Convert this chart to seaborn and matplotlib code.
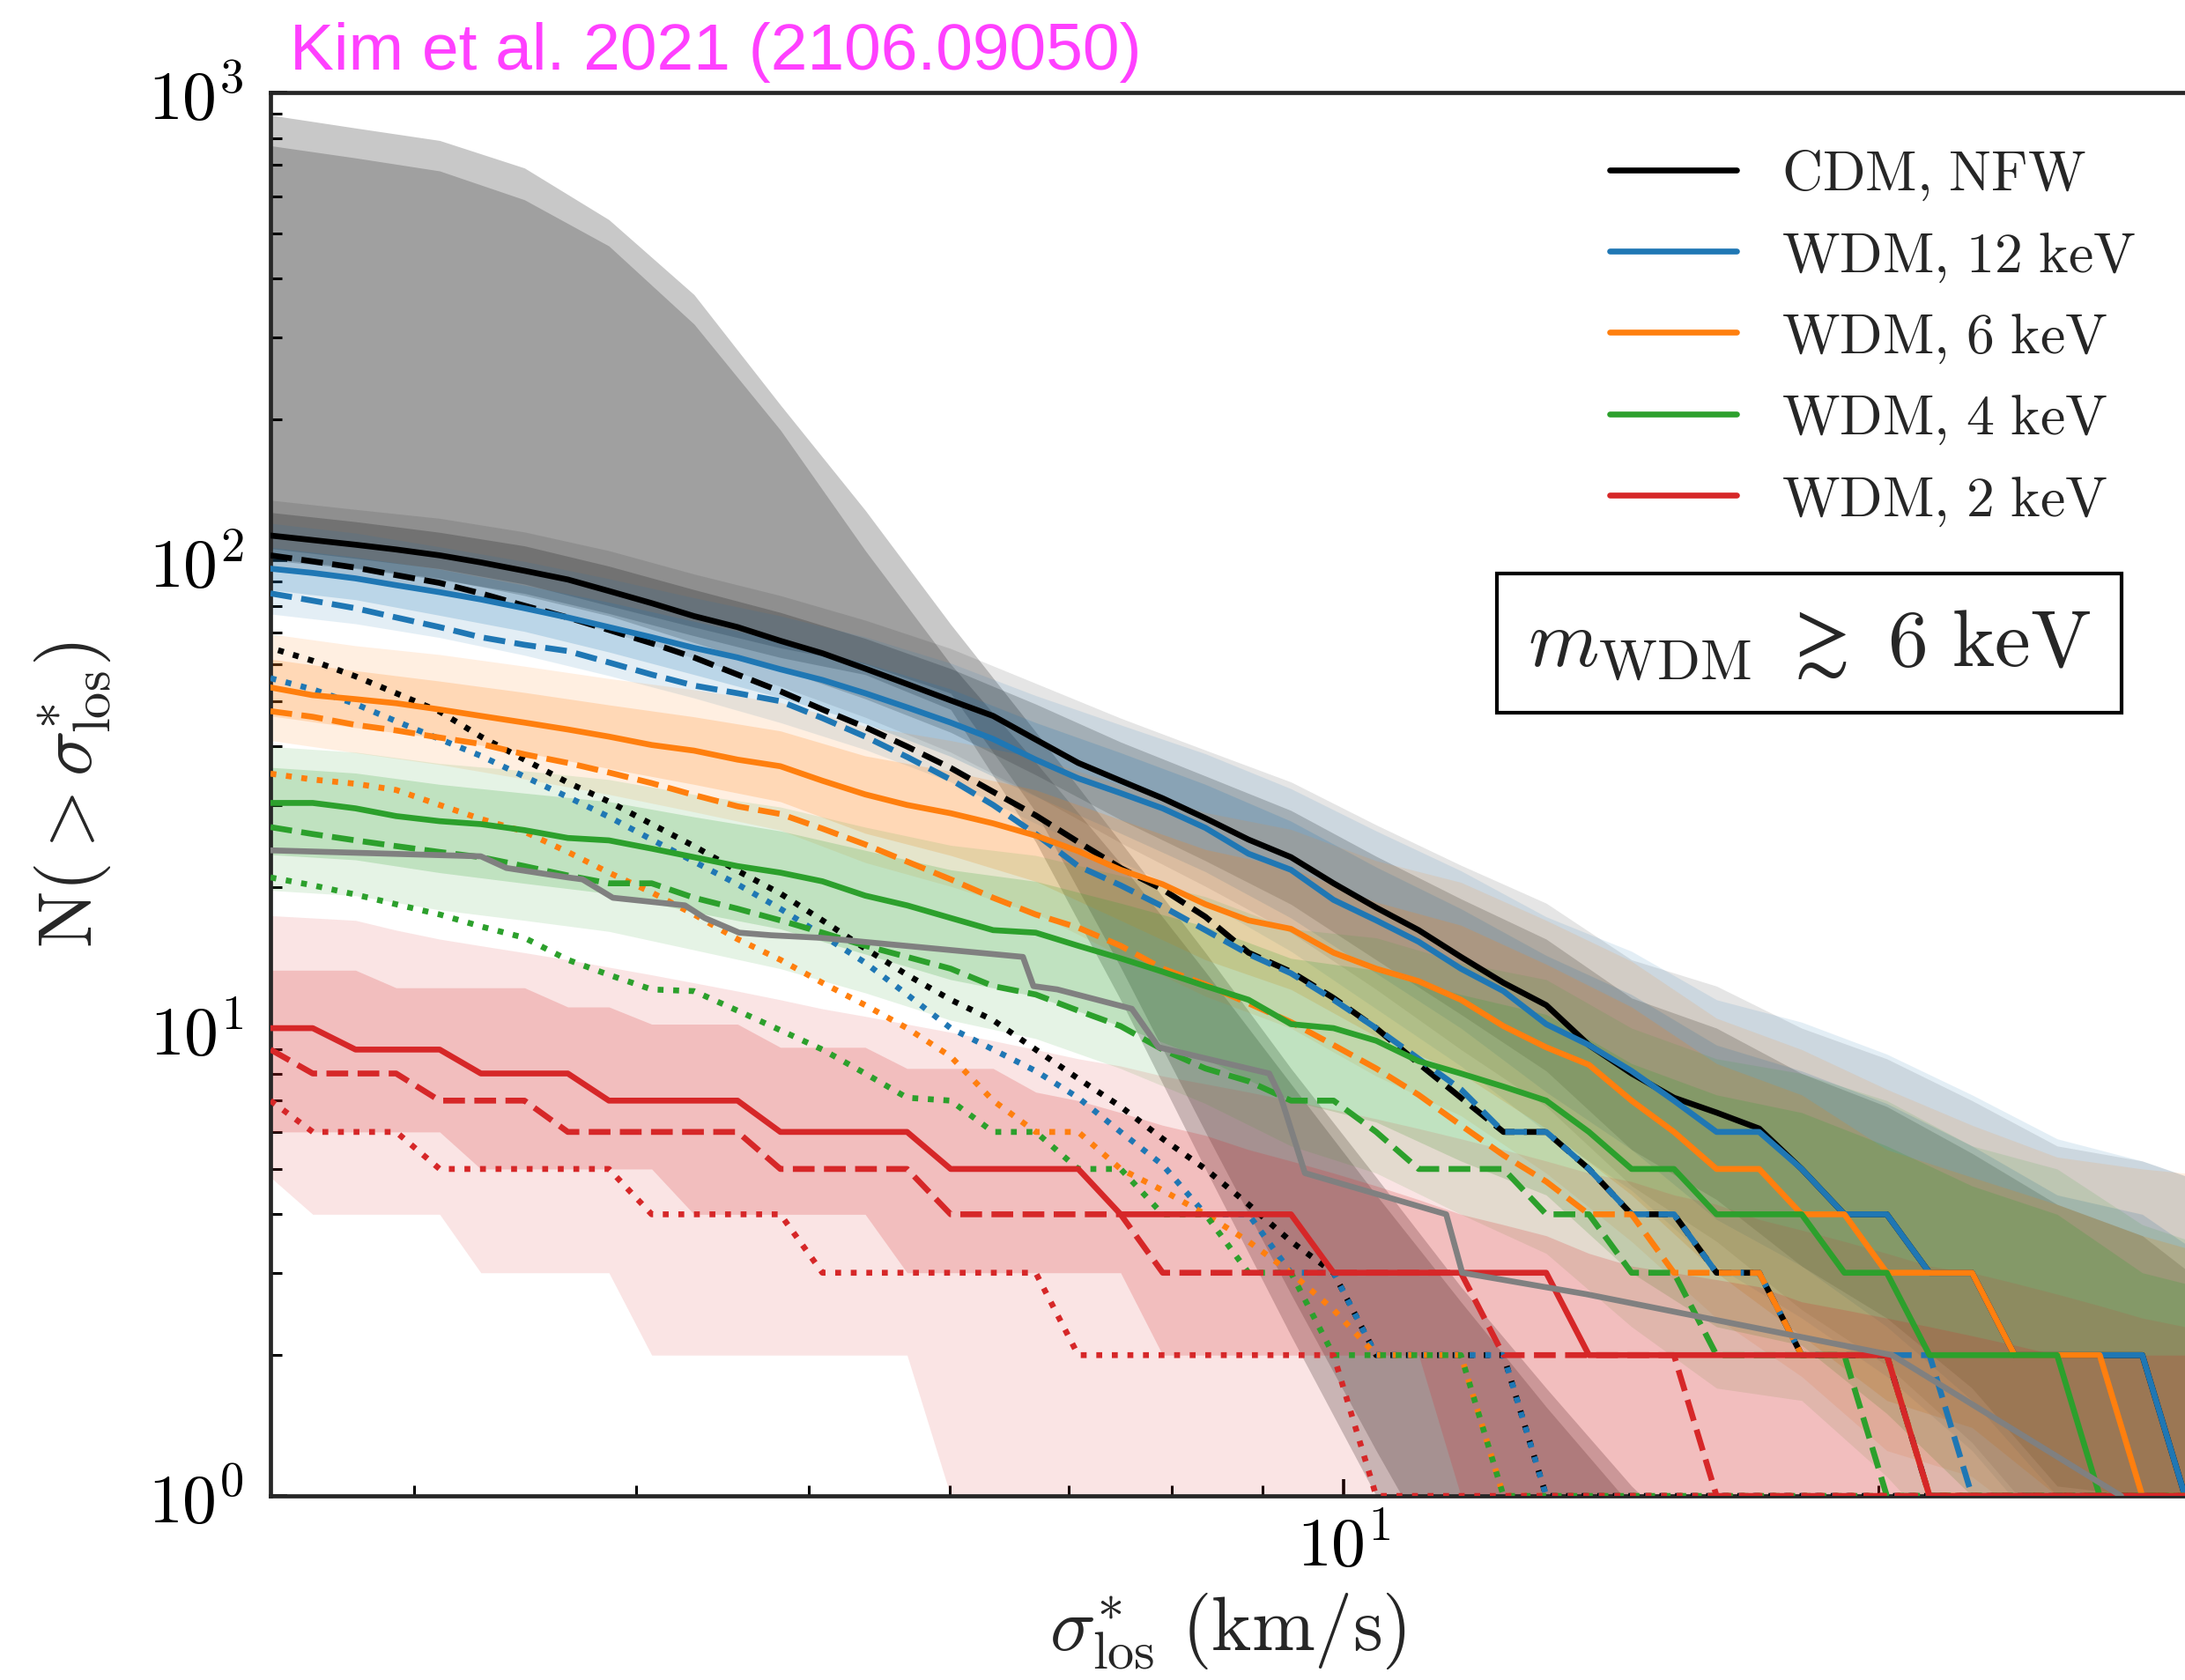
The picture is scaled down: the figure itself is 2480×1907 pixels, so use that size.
import numpy as np
import matplotlib
matplotlib.use("Agg")
import matplotlib.pyplot as plt
import seaborn as sns
from matplotlib.ticker import LogLocator, FuncFormatter, NullFormatter

# ---------------------------------------------------------------------------
# sigma*_los grid (km/s) on which the cumulative counts are sampled
SIGMA = [2.49, 2.63, 2.78, 2.93, 3.10, 3.27, 3.46, 3.66, 3.86, 4.08,
         4.31, 4.56, 4.82, 5.09, 5.38, 5.68, 6.01, 6.35, 6.71, 7.09,
         7.49, 7.91, 8.36, 8.84, 9.34, 9.87, 10.43, 11.02, 11.64, 12.30,
         13.00, 13.74, 14.52, 15.34, 16.21, 17.13, 18.10, 19.13, 20.21, 21.36,
         22.57, 23.85, 25.20, 26.63, 28.14, 29.74, 31.42]
# bands are tabulated on every second grid point
BAND_SIGMA = SIGMA[::2]

# ---- median N(>sigma) curves ------------------------------------------------
CDM_SOLID = [113, 110.5, 108, 105.5, 102.5, 99, 95, 91, 86, 81,
             76, 72, 67.3, 63.3, 58.7, 54.4, 50.2, 46.5, 41.4, 36.9,
             33.8, 31.0, 28.1, 25.3, 23.2, 20.4, 18.1, 16.2, 14.2, 12.5,
             11.2, 9.2, 8.0, 7.1, 6.6, 6.1, 5, 4, 4, 3,
             3, 2, 2, 2, 2, 1, 1]
CDM_DASHED = [102.5, 99.5, 96.5, 93, 89.5, 85, 80, 75.5, 71, 66.5,
              62, 57, 52.5, 48, 44, 40, 36, 32, 28.5, 25,
              22, 19.8, 17.3, 14.5, 13.2, 11.6, 10.0, 8.4, 7.1, 6,
              6, 5, 4, 4, 3, 3, 2, 2, 2, 1,
              1, 1, 1, 1, 1, 1, 1]
CDM_DOTTED = [65, 61, 56.5, 52, 47.5, 42, 37.5, 33.5, 30.5, 27.3,
              24.5, 21.7, 19.4, 17.0, 14.8, 13.0, 11.5, 10.4, 9.0, 7.8,
              6.8, 5.8, 5.0, 4.2, 3.5, 3, 2, 2, 2, 2,
              1, 1, 1, 1, 1, 1, 1, 1, 1, 1,
              1, 1, 1, 1, 1, 1, 1]

W12_SOLID = [96, 94, 91.5, 88.5, 85.5, 82.5, 79, 75.5, 72, 68.5,
             65, 62, 58.5, 55.5, 52, 48.5, 45, 41.5, 37.5, 34.2,
             31.8, 29.5, 26.8, 23.6, 21.8, 18.8, 17.0, 15.3, 13.4, 12.0,
             10.2, 9.2, 8.1, 7.0, 6, 6, 5, 4, 4, 3,
             3, 2, 2, 2, 2, 1, 1]
W12_DASHED = [85, 82, 79, 75.5, 72, 68.5, 66, 64, 60.5, 57,
              54, 52, 50, 46, 42, 38, 34, 30, 26, 22.2,
              20.2, 18.2, 16.2, 14.4, 13.1, 11.5, 10.0, 8.6, 7.4, 6,
              6, 5, 4, 4, 3, 3, 2, 2, 2, 2,
              1, 1, 1, 1, 1, 1, 1]
W12_DOTTED = [56, 53, 49.3, 45.3, 41.5, 38.2, 34.5, 31.2, 28.3, 25.3,
              22.7, 20.3, 18.0, 15.8, 13.8, 11.8, 10.0, 9.0, 8.1, 7.1,
              6.0, 5.1, 4, 4, 3, 3, 2, 2, 2, 2,
              1, 1, 1, 1, 1, 1, 1, 1, 1, 1,
              1, 1, 1, 1, 1, 1, 1]

W6_SOLID = [53.5, 51.5, 50.5, 49.5, 48, 46.5, 45, 43.5, 42, 40.3,
            39.2, 37.5, 36.3, 33.8, 31.6, 30, 28.8, 27.4, 25.8, 23.9,
            21.8, 20.3, 18.4, 17.0, 16.3, 14.5, 13.4, 12.6, 11.5, 10.1,
            9.1, 8.35, 7, 6, 5, 5, 4, 4, 3, 3,
            3, 2, 2, 2, 1, 1, 1]
W6_DASHED = [47.6, 46.3, 44.5, 43.3, 41.8, 40.5, 38.5, 36.9, 35.2, 33.4,
             31.5, 29.8, 28.7, 26.7, 24.7, 22.7, 20.8, 19.0, 17.5, 16.4,
             15.0, 13.4, 12.4, 11.3, 10.3, 9.2, 8.2, 7.2, 6.2, 5.35,
             4.7, 4, 4, 3, 3, 3, 2, 2, 2, 1,
             1, 1, 1, 1, 1, 1, 1]
W6_DOTTED = [35, 34, 33.3, 32.3, 30, 28, 26.3, 23.8, 21.5, 19.5,
             17.5, 15.5, 14, 12.5, 11.2, 10.0, 8.7, 7, 6, 6,
             5, 4.5, 4, 3.5, 3, 2.5, 2, 2, 2, 1,
             1, 1, 1, 1, 1, 1, 1, 1, 1, 1,
             1, 1, 1, 1, 1, 1, 1]

W4_SOLID = [30.3, 30.3, 29.5, 28.4, 27.7, 27.3, 26.5, 25.5, 25.2, 24.2,
            23.2, 22.2, 21.5, 20.6, 19.2, 18.3, 17.2, 16.2, 16.0, 15.0,
            14.1, 13.2, 12.3, 11.5, 10.2, 10.0, 9.4, 8.5, 8, 7.5,
            7, 6, 5, 5, 4, 4, 4, 3, 3, 2,
            2, 2, 2, 1, 1, 1, 1]
W4_DASHED = [26.9, 26.0, 25.2, 24.5, 23.8, 23.2, 22.2, 21.2, 20.4, 20.4,
             19.0, 18.0, 17.0, 16.0, 15.0, 14.2, 13.4, 12.3, 11.8, 10.9,
             10.1, 9.0, 8.2, 7.7, 7.0, 7.0, 6.0, 5, 5, 5,
             4, 4, 3, 3, 2, 2, 2, 2, 1, 1,
             1, 1, 1, 1, 1, 1, 1]
W4_DOTTED = [21, 20.2, 19.3, 18.4, 17.5, 16.5, 15.6, 14.0, 13.0, 12.1,
             12.0, 10.9, 9.9, 9.0, 8.0, 7.1, 7.0, 6, 6, 5,
             5, 4, 4, 3, 3, 2, 2, 2, 2, 1,
             1, 1, 1, 1, 1, 1, 1, 1, 1, 1,
             1, 1, 1, 1, 1, 1, 1]

W2_SOLID = [10, 10, 9, 9, 9, 8, 8, 8, 7, 7,
            7, 7, 6, 6, 6, 6, 5, 5, 5, 5,
            4, 4, 4, 4, 4, 3, 3, 3, 3, 3,
            3, 2, 2, 2, 2, 2, 2, 2, 2, 1,
            1, 1, 1, 1, 1, 1, 1]
W2_DASHED = [9, 8, 8, 8, 7, 7, 7, 6, 6, 6,
             6, 6, 5, 5, 5, 5, 4, 4, 4, 4,
             4, 3, 3, 3, 3, 3, 3, 3, 3, 2,
             2, 2, 2, 2, 1, 1, 1, 1, 1, 1,
             1, 1, 1, 1, 1, 1, 1]
W2_DOTTED = [7, 6, 6, 6, 5, 5, 5, 5, 5, 4,
             4, 4, 4, 3, 3, 3, 3, 3, 3, 2,
             2, 2, 2, 2, 2, 2, 1, 1, 1, 1,
             1, 1, 1, 1, 1, 1, 1, 1, 1, 1,
             1, 1, 1, 1, 1, 1, 1]

# observed Milky Way satellites
OBS_SIGMA = [2.485, 3.27, 3.38, 3.66, 3.73, 3.88, 4.26, 4.37, 4.57, 4.76,
             5.08, 6.60, 6.69, 6.90, 7.60, 7.87, 9.08, 9.22, 9.51, 11.42,
             11.66, 13.69, 20.35, 27.38]
OBS_N = [24, 23.3, 22, 21, 20.8, 19, 18.3, 17.2, 16, 15.8,
         15.6, 14.2, 12.3, 12.1, 11.0, 9.1, 8.0, 7.1, 4.9, 4.0,
         3.0, 2.7, 2.0, 1.0]

# ---- scatter bands (on BAND_SIGMA) -----------------------------------------
WIDE_HI2 = [895, 840, 790, 690, 535, 370, 215, 128, 73, 43, 25, 14.5,
            8.2, 4.8, 2.8, 1.7, 1.05, 0.7, 0.5, 0.5, 0.5, 0.5, 0.5, 0.5]
WIDE_LO2 = [100, 96, 91, 85, 77, 69, 62, 57, 48, 25, 11.5, 5,
            2.2, 1.0, 0.5, 0.5, 0.5, 0.5, 0.5, 0.5, 0.5, 0.5, 0.5, 0.5]
WIDE_HI1 = [770, 725, 680, 590, 470, 320, 190, 105, 60, 37, 22.5, 13.2,
            7.6, 4.4, 2.6, 1.55, 0.95, 0.6, 0.5, 0.5, 0.5, 0.5, 0.5, 0.5]
WIDE_LO1 = [106, 101, 96, 89, 80, 72, 65, 60, 52, 29, 13.5, 6,
            2.7, 1.25, 0.6, 0.5, 0.5, 0.5, 0.5, 0.5, 0.5, 0.5, 0.5, 0.5]

CDM_HI1 = [126.6, 121, 114.8, 107.4, 97.2, 86.6, 77.4, 68.1, 58.7, 49.3, 40.9, 34.6,
           29.2, 23.3, 18.9, 15.5, 11.6, 10.0, 8.0, 6.8, 5.4, 4.2, 3.6, 2.6]
CDM_LO1 = [100.9, 96.4, 91.5, 84.1, 76.1, 66.7, 58.5, 50.6, 42.9, 34.8, 27.9, 22.8,
           18.4, 14.0, 10.7, 8.1, 5.5, 4.3, 3.1, 2.4, 1.7, 1.05, 1.0, 0.6]
CDM_HI2 = [134.5, 128.5, 123, 115, 104.9, 93.5, 84.1, 74.5, 64.8, 54.6, 46.0, 39.3,
           33.6, 27.2, 22.3, 18.5, 14.0, 12.3, 10.0, 8.6, 7.0, 5.6, 5.2, 4.5]
CDM_LO2 = [95, 90.8, 85.4, 78.5, 70.5, 61.8, 53.8, 46.2, 38.9, 31.4, 24.9, 20.1,
           16.0, 12.1, 9.0, 6.8, 4.6, 3.5, 2.5, 1.9, 1.3, 0.8, 0.7, 0.5]

W12_HI1 = [106.6, 101.6, 95.8, 88.5, 81.4, 74.1, 67.3, 60.3, 53.1, 45.0, 38.8, 33.2,
           27.7, 22.1, 18.0, 14.3, 11.8, 9.2, 8.1, 6.9, 5.6, 4.4, 4.0, 3.0]
W12_LO1 = [86.5, 82.4, 76.3, 70.5, 63.7, 57.0, 50.9, 44.8, 38.1, 31.3, 26.1, 21.6,
           17.2, 13.1, 10.0, 7.3, 5.5, 3.9, 3.1, 2.3, 1.6, 1.0, 1.0, 0.5]
W12_HI2 = [120, 114.4, 106.9, 99.5, 91.4, 83.2, 76.1, 68.6, 60.3, 51.4, 44.5, 38.6,
           32.5, 26.4, 21.7, 17.3, 14.6, 11.5, 10.3, 8.8, 7.2, 5.8, 5.2, 4.5]
W12_LO2 = [76.8, 73.2, 68.4, 62.7, 56.7, 50.8, 45.0, 39.4, 33.6, 27.4, 22.7, 18.6,
           14.6, 11.0, 8.3, 6.0, 4.5, 3.1, 2.4, 1.8, 1.25, 0.77, 0.77, 0.4]

W6_HI1 = [61.5, 58.1, 55.2, 52.2, 49.1, 46.3, 43.2, 38.2, 35.4, 32.3, 27.9, 24.1,
          22.0, 18.6, 16.6, 13.7, 11.1, 8.4, 7.2, 5.5, 4.8, 4.2, 3.6, 3.2]
W6_LO1 = [46.5, 43.9, 41.7, 38.8, 35.9, 33.2, 30.5, 26.1, 23.4, 20.6, 17.0, 14.0,
          12.1, 9.6, 8.0, 6.1, 4.4, 3.0, 2.2, 1.6, 1.4, 1.0, 0.8, 0.6]
W6_HI2 = [69.6, 65.7, 62.9, 59.4, 55.9, 52.9, 49.7, 44.2, 41.2, 37.9, 33.1, 28.9,
          26.6, 22.8, 20.5, 17.0, 13.9, 10.5, 9.0, 7.4, 6.2, 5.3, 5.0, 4.8]
W6_LO2 = [41.2, 38.8, 36.6, 34.1, 31.6, 29.0, 26.5, 22.6, 20.1, 17.6, 14.3, 11.7,
          10.0, 7.9, 6.5, 4.9, 3.5, 2.4, 1.8, 1.25, 1.1, 0.8, 0.6, 0.5]

W4_HI1 = [36.1, 35.1, 33.2, 31.8, 30.5, 28.3, 26.4, 24.0, 21.8, 20.6, 18.5, 16.5,
          14.1, 13.3, 11.8, 10.7, 8.4, 7.2, 6.6, 5.6, 4.6, 4.0, 3.0, 2.7]
W4_LO1 = [23.5, 22.9, 21.5, 20.4, 19.4, 17.7, 16.3, 14.4, 12.7, 11.7, 10.1, 8.6,
          7.0, 6.3, 5.2, 4.4, 3.0, 2.3, 2.1, 1.5, 1.0, 0.85, 0.5, 0.4]
W4_HI2 = [40.0, 38.9, 36.8, 35.5, 34.0, 31.6, 29.7, 26.9, 24.6, 23.4, 21.2, 19.1,
          16.3, 15.6, 13.8, 12.7, 10.0, 8.6, 8.0, 7.0, 5.6, 5.0, 3.8, 3.3]
W4_LO2 = [19.7, 19.2, 17.9, 17.0, 16.1, 14.7, 13.4, 11.9, 10.4, 9.5, 8.2, 6.9,
          5.6, 4.9, 4.0, 3.3, 2.3, 1.7, 1.6, 1.1, 0.7, 0.65, 0.3, 0.29]

# the 2 keV band is tabulated on the full grid
W2_HI1 = [13.3, 13.3, 13.3, 12.2, 12.2, 12.2, 12.2, 11.1, 11.1, 10.2,
          10.2, 10.2, 9.1, 9.1, 9.1, 8.2, 8.2, 8.2, 7.3, 7.0,
          6.6, 6.2, 5.9, 5.5, 5.2, 4.9, 4.6, 4.3, 4.0, 3.8,
          3.6, 3.3, 3.1, 3.0, 2.9, 2.8, 2.6, 2.5, 2.4, 2.3,
          2.2, 2.1, 2.0, 2.0, 2.0, 2.0, 2.0]
W2_LO1 = [6, 6, 6, 6, 6, 5, 5, 5, 5, 5,
          4, 4, 4, 4, 4, 3, 3, 3, 3, 3,
          3, 2, 2, 2, 2, 2, 2, 2, 1, 0.5,
          0.5, 0.5, 0.5, 0.5, 0.5, 0.5, 0.5, 0.5, 0.5, 0.5,
          0.5, 0.5, 0.5, 0.5, 0.5, 0.5, 0.5]
W2_HI2 = [17.4, 17.2, 17.0, 16.2, 15.5, 15.0, 14.5, 14.0, 13.5, 13.0,
          12.5, 12.0, 11.5, 11.0, 10.6, 10.2, 9.8, 9.4, 9.0, 8.6,
          8.3, 7.9, 7.6, 7.3, 7.0, 6.7, 6.4, 6.1, 5.8, 5.5,
          5.2, 4.9, 4.7, 4.4, 4.2, 3.9, 3.7, 3.5, 3.3, 3.1,
          3.0, 2.85, 2.7, 2.55, 2.4, 2.3, 2.2]
W2_LO2 = [4.8, 4, 4, 4, 4, 3, 3, 3, 3, 2,
          2, 2, 2, 2, 2, 2, 1, 0.5, 0.5, 0.5,
          0.5, 0.5, 0.5, 0.5, 0.5, 0.5, 0.5, 0.5, 0.5, 0.5,
          0.5, 0.5, 0.5, 0.5, 0.5, 0.5, 0.5, 0.5, 0.5, 0.5,
          0.5, 0.5, 0.5, 0.5, 0.5, 0.5, 0.5]

LABELS = [r"$\mathrm{CDM{,}\ NFW}$", r"$\mathrm{WDM{,}\ 12\ keV}$",
          r"$\mathrm{WDM{,}\ 6\ keV}$", r"$\mathrm{WDM{,}\ 4\ keV}$",
          r"$\mathrm{WDM{,}\ 2\ keV}$"]
COLORS = ["black", "#1f77b4", "#ff7f0e", "#2ca02c", "#d62728"]
OBS_COLOR = "#808080"
TITLE_COLOR = "#ff40ff"

# ---------------------------------------------------------------------------
sns.set_style("ticks")
plt.rcParams.update({
    "font.family": ["DejaVu Serif"],
    "mathtext.fontset": "cm",
    "axes.linewidth": 1.7,
    "xtick.direction": "in",
    "ytick.direction": "in",
    "xtick.major.size": 7, "xtick.minor.size": 4.5,
    "ytick.major.size": 7, "ytick.minor.size": 4.5,
    "xtick.major.width": 1.3, "xtick.minor.width": 1.1,
    "ytick.major.width": 1.3, "ytick.minor.width": 1.1,
    "xtick.color": "black", "ytick.color": "black",
})

fig = plt.figure(figsize=(12.4, 9.54), dpi=200)
ax = fig.add_axes([0.1238, 0.1095, 1 - 0.1238, 0.9444 - 0.1095])
ax.set_xscale("log")
ax.set_yscale("log")

LW = 2.4

# wide grey envelope
ax.fill_between(BAND_SIGMA, WIDE_LO2, WIDE_HI2, color="black", alpha=0.215, lw=0, zorder=1)
ax.fill_between(BAND_SIGMA, WIDE_LO1, WIDE_HI1, color="black", alpha=0.2, lw=0, zorder=1)

# model scatter bands
coarse_bands = [
    (CDM_LO2, CDM_HI2, CDM_LO1, CDM_HI1, 0.10),
    (W12_LO2, W12_HI2, W12_LO1, W12_HI1, 0.12),
    (W6_LO2, W6_HI2, W6_LO1, W6_HI1, 0.12),
    (W4_LO2, W4_HI2, W4_LO1, W4_HI1, 0.12),
]
for (lo2, hi2, lo1, hi1, a2), col in zip(coarse_bands, COLORS[:4]):
    ax.fill_between(BAND_SIGMA, lo2, hi2, color=col, alpha=a2, lw=0, zorder=1)
    ax.fill_between(BAND_SIGMA, lo1, hi1, color=col, alpha=0.2, lw=0, zorder=1)
ax.fill_between(SIGMA, W2_LO2, W2_HI2, color=COLORS[4], alpha=0.12, lw=0, zorder=1)
ax.fill_between(SIGMA, W2_LO1, W2_HI1, color=COLORS[4], alpha=0.2, lw=0, zorder=1)


def curve(y, color, ls, label=None, x=SIGMA):
    sns.lineplot(x=x, y=y, color=color, linestyle=ls, linewidth=LW, ax=ax,
                 label=label, estimator=None, errorbar=None, sort=False,
                 legend=False, zorder=3)


models = [
    (CDM_SOLID, CDM_DASHED, CDM_DOTTED),
    (W12_SOLID, W12_DASHED, W12_DOTTED),
    (W6_SOLID, W6_DASHED, W6_DOTTED),
    (W4_SOLID, W4_DASHED, W4_DOTTED),
    (W2_SOLID, W2_DASHED, W2_DOTTED),
]
solid_handles = []
for (solid, dashed, dotted), col, lab in zip(models, COLORS, LABELS):
    curve(solid, col, "-", label=lab)
    solid_handles.append(ax.get_lines()[-1])
    curve(dashed, col, (0, (3.7, 1.6)))
    curve(dotted, col, (1.3, (1, 1.65)) if col == "black" else (0, (1, 1.65)))

curve(OBS_N, OBS_COLOR, "-", x=OBS_SIGMA)

# axes ranges and ticks
ax.set_xlim(2.49, 29.74)
ax.set_ylim(1, 1000)
ax.spines["right"].set_visible(False)
ax.xaxis.set_major_locator(LogLocator(base=10))
ax.xaxis.set_minor_locator(LogLocator(base=10, subs=np.arange(2, 10)))
ax.yaxis.set_major_locator(LogLocator(base=10))
ax.yaxis.set_minor_locator(LogLocator(base=10, subs=np.arange(2, 10)))
fmt = FuncFormatter(lambda v, p: r"$10^{%d}$" % int(round(np.log10(v))))
ax.xaxis.set_major_formatter(fmt)
ax.yaxis.set_major_formatter(fmt)
ax.xaxis.set_minor_formatter(NullFormatter())
ax.yaxis.set_minor_formatter(NullFormatter())
ax.tick_params(axis="both", which="both", top=False, right=False)
ax.tick_params(axis="x", which="major", labelsize=28, pad=7)
ax.tick_params(axis="y", which="major", labelsize=28, pad=11)

ax.set_xlabel(r"$\sigma^{*}_{\rm los}\ ({\rm km/s})$", fontsize=31, labelpad=4)
ax.set_ylabel(r"$\mathrm{N}(>\sigma^{*}_{\rm los})$", fontsize=31)
ax.yaxis.label.set_va("center")
ax.yaxis.set_label_coords(-0.1035, 0.5)

leg = ax.legend(handles=solid_handles, labels=LABELS, loc="upper left",
                bbox_to_anchor=(0.7367, 0.912), bbox_transform=fig.transFigure,
                frameon=False, fontsize=23, handlelength=2.25, handletextpad=0.8,
                labelspacing=0.47, borderpad=0, borderaxespad=0)
for h in leg.legend_handles:
    h.set_linewidth(LW)
    h.set_linestyle("-")

fig.text(0.828, 0.617, r"$m_{\rm WDM}\ \gtrsim\ 6\ {\rm keV}$", fontsize=33,
         ha="center", va="center",
         bbox=dict(boxstyle="square,pad=0.38", fc="white", ec="black", lw=1.5))

fig.text(0.1327, 0.9586, "Kim et al. 2021 (2106.09050)", color=TITLE_COLOR,
         fontsize=27, family=["Liberation Sans", "DejaVu Sans"],
         ha="left", va="baseline")

fig.savefig("out.png", dpi=200, facecolor="white")
